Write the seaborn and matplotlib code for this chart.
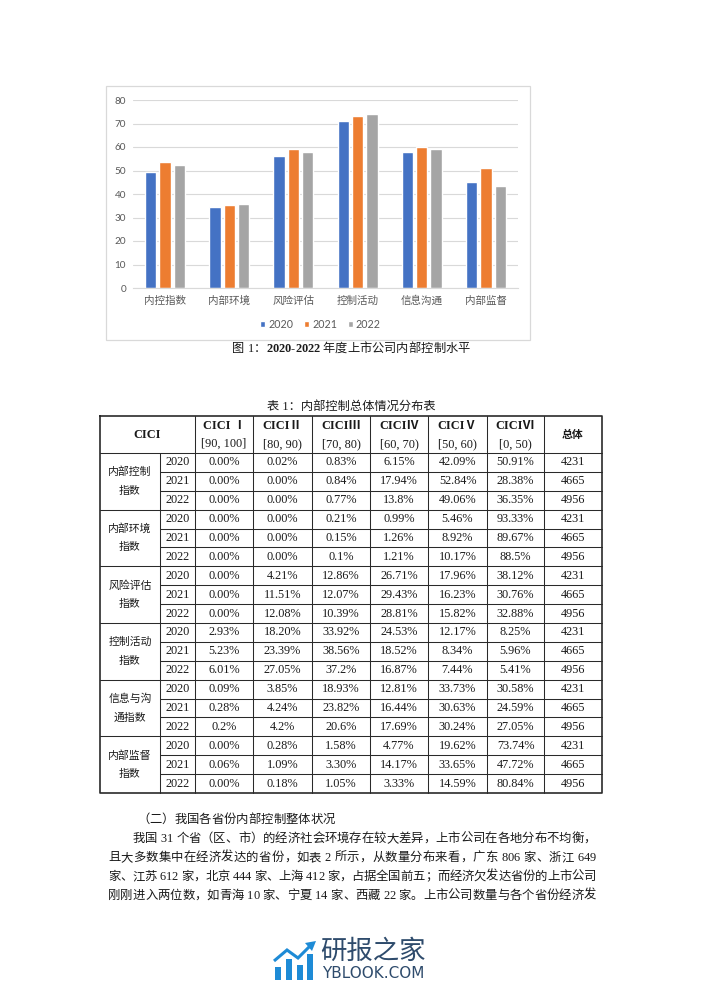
import numpy as np
import pandas as pd
import matplotlib
matplotlib.use("Agg")
import matplotlib.pyplot as plt
import seaborn as sns
from matplotlib.patches import Rectangle, Polygon

# ---------------- data ----------------
categories = ["内控指数", "内部环境", "风险评估", "控制活动", "信息沟通", "内部监督"]
years = ["2020", "2021", "2022"]
values_2020 = [49.4, 34.3, 56.2, 71.2, 57.8, 44.9]
values_2021 = [53.7, 35.4, 59.3, 73.2, 59.8, 51.0]
values_2022 = [52.2, 35.7, 57.9, 74.2, 59.0, 43.3]
y_ticks = [0, 10, 20, 30, 40, 50, 60, 70, 80]
bar_colors = ["#4472C4", "#ED7D31", "#A5A5A5"]

fig_caption = ["图 1：", "2020-2022", " 年度上市公司内部控制水平"]
table_title = "表 1：内部控制总体情况分布表"
table_head_left = "CICI"
table_levels = ["CICI Ⅰ", "CICIⅡ", "CICIⅢ", "CICIⅣ", "CICIⅤ", "CICIⅥ"]
table_ranges = ["[90, 100]", "[80, 90)", "[70, 80)", "[60, 70)", "[50, 60)", "[0, 50)"]
table_head_total = "总体"
table_groups = ["内部控制\n指数", "内部环境\n指数", "风险评估\n指数",
                "控制活动\n指数", "信息与沟\n通指数", "内部监督\n指数"]
table_totals = ["4231", "4665", "4956"]
table_rows = [
    ["0.00%", "0.02%", "0.83%", "6.15%", "42.09%", "50.91%"],
    ["0.00%", "0.00%", "0.84%", "17.94%", "52.84%", "28.38%"],
    ["0.00%", "0.00%", "0.77%", "13.8%", "49.06%", "36.35%"],
    ["0.00%", "0.00%", "0.21%", "0.99%", "5.46%", "93.33%"],
    ["0.00%", "0.00%", "0.15%", "1.26%", "8.92%", "89.67%"],
    ["0.00%", "0.00%", "0.1%", "1.21%", "10.17%", "88.5%"],
    ["0.00%", "4.21%", "12.86%", "26.71%", "17.96%", "38.12%"],
    ["0.00%", "11.51%", "12.07%", "29.43%", "16.23%", "30.76%"],
    ["0.00%", "12.08%", "10.39%", "28.81%", "15.82%", "32.88%"],
    ["2.93%", "18.20%", "33.92%", "24.53%", "12.17%", "8.25%"],
    ["5.23%", "23.39%", "38.56%", "18.52%", "8.34%", "5.96%"],
    ["6.01%", "27.05%", "37.2%", "16.87%", "7.44%", "5.41%"],
    ["0.09%", "3.85%", "18.93%", "12.81%", "33.73%", "30.58%"],
    ["0.28%", "4.24%", "23.82%", "16.44%", "30.63%", "24.59%"],
    ["0.2%", "4.2%", "20.6%", "17.69%", "30.24%", "27.05%"],
    ["0.00%", "0.28%", "1.58%", "4.77%", "19.62%", "73.74%"],
    ["0.06%", "1.09%", "3.30%", "14.17%", "33.65%", "47.72%"],
    ["0.00%", "0.18%", "1.05%", "3.33%", "14.59%", "80.84%"],
]

body_lines = [
    "（二）我国各省份内部控制整体状况",
    "我国 31 个省（区、市）的经济社会环境存在较大差异，上市公司在各地分布不均衡，",
    "且大多数集中在经济发达的省份，如表 2 所示，从数量分布来看，广东 806 家、浙江 649",
    "家、江苏 612 家，北京 444 家、上海 412 家，占据全国前五；而经济欠发达省份的上市公司",
    "刚刚进入两位数，如青海 10 家、宁夏 14 家、西藏 22 家。上市公司数量与各个省份经济发",
]
logo_cn = "研报之家"
logo_en = "YBLOOK.COM"

# ---------------- setup ----------------
sns.set_theme(style="white")
CJK = "Noto Sans CJK SC"
SERIF = ["Liberation Serif", CJK]
plt.rcParams["font.family"] = SERIF
plt.rcParams["axes.unicode_minus"] = False

W, H = 702, 991
fig = plt.figure(figsize=(W / 100, H / 100), dpi=100, facecolor="white")

pg = fig.add_axes([0, 0, 1, 1])
pg.set_xlim(0, W)
pg.set_ylim(H, 0)
pg.axis("off")
renderer = fig.canvas.get_renderer()

TXT = "#1a1a1a"

# ---------------- chart ----------------
pg.add_patch(Rectangle((106, 86), 424, 254, fill=False, ec="#D9D9D9", lw=0.9))

ax = fig.add_axes([133 / W, 1 - 288 / H, 385 / W, 188 / H])
ax.set_facecolor("none")
df = pd.DataFrame({
    "指标": categories * 3,
    "年份": [years[0]] * 6 + [years[1]] * 6 + [years[2]] * 6,
    "得分": values_2020 + values_2021 + values_2022,
})
sns.barplot(data=df, x="指标", y="得分", hue="年份", palette=bar_colors,
            width=0.67, gap=0.22, saturation=1, errorbar=None, ax=ax)
ax.set_xlim(-0.5, len(categories) - 0.5)
ax.set_ylim(0, 80)
ax.set_yticks(y_ticks)
ax.set_yticklabels([str(v) for v in y_ticks], family="Lato", fontsize=7.2, color="#595959")
ax.set_xticks(range(len(categories)))
ax.set_xticklabels(categories, family=CJK, fontsize=7.6, color="#595959")
ax.tick_params(axis="both", length=0)
ax.tick_params(axis="y", pad=5)
ax.tick_params(axis="x", pad=5.5)
ax.set_xlabel("")
ax.set_ylabel("")
ax.grid(axis="y", color="#D9D9D9", lw=0.8)
ax.grid(axis="x", visible=False)
ax.set_axisbelow(True)
for s in ["left", "right", "top"]:
    ax.spines[s].set_visible(False)
ax.spines["bottom"].set_color("#D9D9D9")
ax.spines["bottom"].set_linewidth(0.8)
handles, labels = ax.get_legend_handles_labels()
ax.legend(handles, labels, loc="center", bbox_to_anchor=(320.5 / W, 1 - 324 / H),
          bbox_transform=fig.transFigure, ncol=3, frameon=False,
          prop={"family": "Lato", "size": 7.7}, labelcolor="#595959",
          handlelength=0.45, handleheight=0.45, handletextpad=0.3,
          columnspacing=1.0, borderpad=0)

# ---------------- text helpers ----------------
_cache = {}


def measure(ch, props):
    key = (ch, tuple(sorted((k, str(v)) for k, v in props.items())))
    if key in _cache:
        return _cache[key]
    if ch == " ":
        w = measure("a a", props) - measure("aa", props)
    else:
        t = pg.text(0, 0, ch, **props)
        w = t.get_window_extent(renderer).width
        t.remove()
    _cache[key] = w
    return w


def draw_runs(runs, x0, y, x1=None, align="left"):
    units = []
    for s, props in runs:
        for ch in s:
            units.append((ch, props))
    widths = [measure(ch, p) for ch, p in units]
    total = sum(widths)
    extra = 0.0
    x = x0
    if align == "justify" and x1 is not None and len(units) > 1:
        extra = (x1 - x0 - total) / (len(units) - 1)
    elif align == "center":
        x = x0 - total / 2
    for (ch, p), w in zip(units, widths):
        if ch != " ":
            pg.text(x, y, ch, ha="left", va="baseline", **p)
        x += w + extra


cap_reg = dict(family=SERIF, fontsize=8.8, color=TXT)
cap_bold = dict(family=SERIF, fontsize=8.8, color=TXT, fontweight="bold")
draw_runs([(fig_caption[0], cap_reg), (fig_caption[1], cap_bold), (fig_caption[2], cap_reg)],
          351, 352, align="center")

# ---------------- table ----------------
pg.text(351, 407, table_title, ha="center", va="center", family=SERIF, fontsize=8.8, color=TXT)

xl, xy, xr = 100, 160, 602
col_x = [195, 253, 312, 370, 428, 487, 544]
top, head_bot = 416, 453
row_h = (793 - head_bot) / 18
bot = head_bot + 18 * row_h
lw_in, lw_out = 0.75, 1.2
lc = "#2a2a2a"

pg.plot([xl, xr, xr, xl, xl], [top, top, bot, bot, top], color=lc, lw=lw_out)
for cx in col_x:
    pg.plot([cx, cx], [top, bot], color=lc, lw=lw_in)
pg.plot([xy, xy], [head_bot, bot], color=lc, lw=lw_in)
pg.plot([xl, xr], [head_bot, head_bot], color=lc, lw=lw_in)
for r in range(1, 18):
    yy = head_bot + r * row_h
    if r % 3 == 0:
        pg.plot([xl, xr], [yy, yy], color=lc, lw=lw_in)
    else:
        pg.plot([xy, xr], [yy, yy], color=lc, lw=lw_in)

fs_t = 8.8
fs_g = 7.8
pg.text((xl + col_x[0]) / 2, 435, table_head_left, ha="center", va="center",
        family=SERIF, fontsize=fs_t, fontweight="bold", color=TXT)
for i in range(6):
    cx = (col_x[i] + col_x[i + 1]) / 2
    pg.text(cx, 426, table_levels[i], ha="center", va="center", family=SERIF,
            fontsize=fs_t, fontweight="bold", color=TXT)
    pg.text(cx, 444, table_ranges[i], ha="center", va="center", family=SERIF,
            fontsize=fs_t, color=TXT)
pg.text((col_x[6] + xr) / 2, 435, table_head_total, ha="center", va="center",
        family=SERIF, fontsize=fs_g, fontweight="bold", color=TXT)

for g, name in enumerate(table_groups):
    g_top = head_bot + g * 3 * row_h
    l1, l2 = name.split("\n")
    pg.text((xl + xy) / 2, g_top + row_h, l1, ha="center", va="center",
            family=SERIF, fontsize=fs_g, color=TXT)
    pg.text((xl + xy) / 2, g_top + 2 * row_h, l2, ha="center", va="center",
            family=SERIF, fontsize=fs_g, color=TXT)
    for k in range(3):
        r = g * 3 + k
        yc = head_bot + (r + 0.5) * row_h
        pg.text((xy + col_x[0]) / 2, yc, years[k], ha="center", va="center",
                family=SERIF, fontsize=fs_t, color=TXT)
        for i in range(6):
            cx = (col_x[i] + col_x[i + 1]) / 2
            pg.text(cx, yc, table_rows[r][i], ha="center", va="center",
                    family=SERIF, fontsize=fs_t, color=TXT)
        pg.text((col_x[6] + xr) / 2, yc, table_totals[k], ha="center", va="center",
                family=SERIF, fontsize=fs_t, color=TXT)

# ---------------- body text ----------------
body = dict(family=SERIF, fontsize=8.9, color=TXT)
line_y = [823, 842, 861, 880, 899]
draw_runs([(body_lines[0], body)], 137, line_y[0])
draw_runs([(body_lines[1], body)], 133, line_y[1], 596, align="justify")
for k in range(2, 5):
    draw_runs([(body_lines[k], body)], 108, line_y[k], 596, align="justify")

# ---------------- logo ----------------
blue = "#1E8BD6"
for bx, btop in [(275, 967), (286, 959), (297, 965), (307, 954)]:
    pg.add_patch(Rectangle((bx, btop), 6, 980 - btop, color=blue, lw=0))
pg.plot([274, 287, 298, 310], [961, 950, 958, 946], color=blue, lw=2.2,
        solid_capstyle="butt", solid_joinstyle="miter")
pg.add_patch(Polygon([[316, 941], [305, 943], [312, 951]], closed=True, color=blue, lw=0))
pg.text(373, 951, logo_cn, ha="center", va="center", family=CJK, fontsize=19,
        color="#2E4B6C", fontweight="medium")
pg.text(373, 973, logo_en, ha="center", va="center", family="DejaVu Sans",
        fontsize=11, color="#2E4B6C")

fig.savefig("out.png", dpi=100, facecolor="white")
